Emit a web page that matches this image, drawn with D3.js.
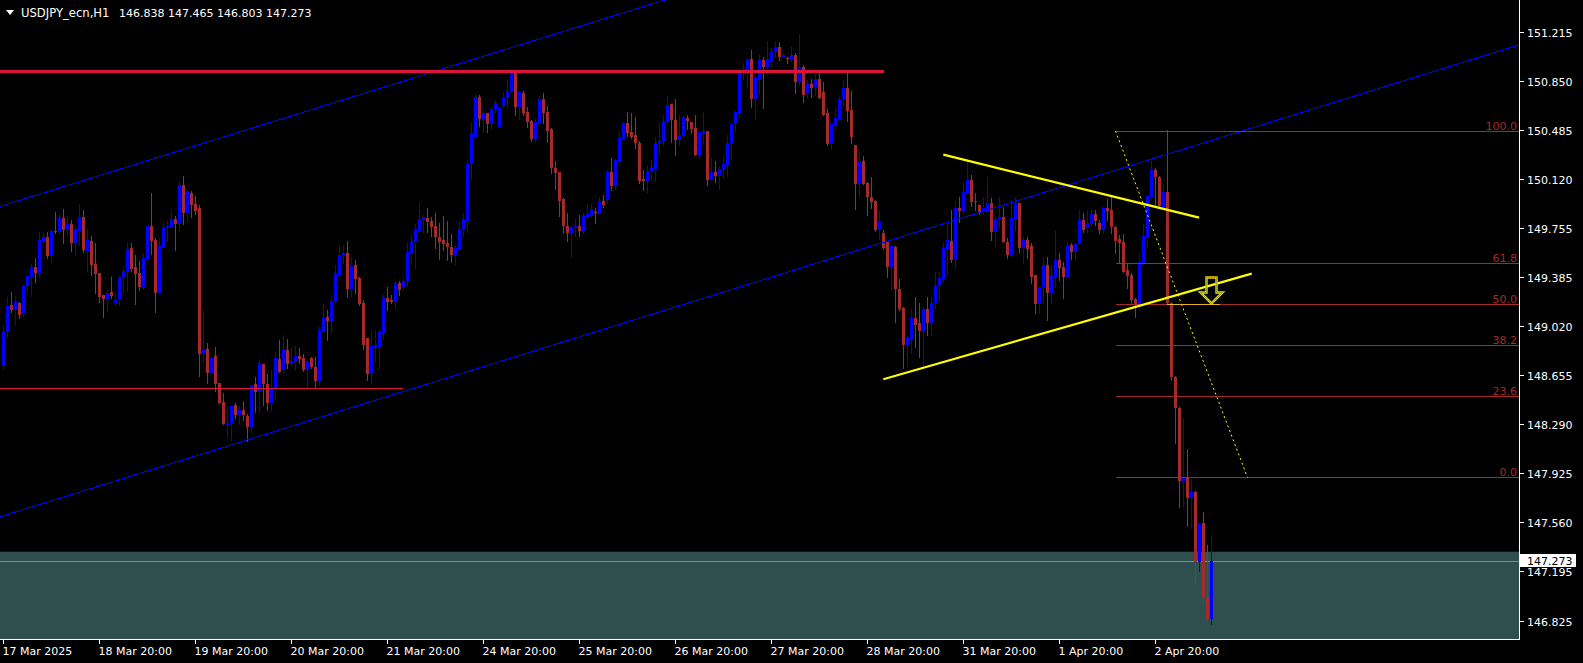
<!DOCTYPE html>
<html><head><meta charset="utf-8">
<script src="https://cdn.jsdelivr.net/npm/d3@7/dist/d3.min.js"></script>
<style>
html,body{margin:0;padding:0;background:#000;overflow:hidden;}
svg{display:block;}
text{font-family:"DejaVu Sans",sans-serif;}
</style></head><body>
<svg id="c" width="1583" height="663"></svg>
<script>
// ---------------- DATA (USDJPY_ecn, H1) ----------------
const symbolTitle = "USDJPY_ecn,H1";
const ohlcTitle = "146.838 147.465 146.803 147.273";
const opens = [
148.726,148.979,149.178,149.141,149.195,149.110,149.320,149.384,149.461,149.419,
149.655,149.685,149.546,149.729,149.724,149.826,149.737,149.782,149.640,149.729,
149.834,149.575,149.655,149.484,149.416,149.250,149.223,149.275,149.190,149.223,
149.387,149.426,149.603,149.461,149.416,149.310,149.521,149.767,149.662,149.267,
149.610,149.752,149.759,149.819,149.782,150.072,149.864,150.013,149.931,149.901,
148.820,148.850,148.674,148.798,148.597,148.455,148.284,148.296,148.433,148.358,
148.396,148.353,148.266,148.589,148.532,148.738,148.589,148.450,148.550,148.773,
148.694,148.843,148.738,148.756,148.798,148.786,148.694,148.786,148.719,148.614,
148.979,149.086,149.054,149.203,149.402,149.546,149.568,149.295,149.476,149.377,
149.195,148.930,148.664,148.855,148.863,148.967,149.228,149.215,149.203,149.340,
149.315,149.359,149.568,149.650,149.732,149.812,149.824,149.804,149.767,149.688,
149.663,149.643,149.613,149.551,149.588,149.737,149.804,150.229,150.433,150.731,
150.557,150.607,150.527,150.631,150.507,150.661,150.718,150.768,150.910,150.656,
150.761,150.619,150.549,150.413,150.537,150.713,150.619,150.490,150.202,150.167,
149.968,149.769,149.717,149.762,149.769,149.730,149.837,149.841,149.874,149.866,
149.956,149.960,150.171,150.064,150.246,150.415,150.537,150.469,150.445,150.387,
150.117,150.104,150.179,150.191,150.382,150.395,150.544,150.676,150.556,150.407,
150.437,150.569,150.539,150.499,150.296,150.452,150.474,150.109,150.166,150.141,
150.184,150.221,150.377,150.524,150.606,150.909,150.909,151.011,150.713,150.854,
151.004,150.954,150.991,151.065,151.103,151.028,151.021,151.003,151.041,150.837,
150.954,150.748,150.825,150.805,150.862,150.763,150.607,150.383,150.519,150.562,
150.713,150.798,150.631,150.371,150.080,150.254,150.090,149.986,149.956,149.737,
149.712,149.650,149.464,149.613,149.300,149.158,148.880,148.917,149.079,149.042,
148.987,149.146,149.042,149.191,149.318,149.372,149.588,149.655,149.514,149.904,
149.881,150.015,150.110,149.956,149.923,149.874,149.874,149.936,149.720,149.817,
149.837,149.650,149.551,149.814,149.936,149.601,149.663,149.618,149.402,149.186,
149.310,149.476,149.270,149.390,149.514,149.464,149.390,149.625,149.576,149.638,
149.812,149.750,149.782,149.857,149.792,149.737,149.899,149.886,149.762,149.668,
149.650,149.439,149.402,149.221,149.178,149.489,149.688,149.981,150.184,150.130,
149.911,150.023,149.196,148.644,148.413,147.869,147.889,147.744,147.784,147.265,
147.551,147.004,146.838];
const highs = [
149.022,149.240,149.275,149.245,149.200,149.327,149.398,149.481,149.526,149.722,
149.722,149.722,149.737,149.871,149.849,149.893,149.841,149.811,149.774,149.933,
149.886,149.744,149.695,149.640,149.420,149.255,149.290,149.387,149.270,149.394,
149.459,149.638,149.640,149.551,149.506,149.565,149.770,150.013,149.677,149.677,
149.782,149.804,149.878,149.841,150.102,150.139,150.042,150.028,149.990,149.923,
149.141,148.895,148.793,148.863,148.600,148.520,148.416,148.428,148.445,148.425,
148.463,148.363,148.585,148.644,148.773,148.740,148.661,148.694,148.830,148.917,
148.952,148.922,148.868,148.873,148.855,148.813,148.763,148.793,148.793,149.017,
149.186,149.141,149.253,149.476,149.625,149.625,149.655,149.538,149.513,149.389,
149.215,148.932,148.992,148.992,148.992,149.253,149.310,149.253,149.347,149.359,
149.380,149.638,149.700,149.779,149.943,149.849,149.899,149.837,149.861,149.787,
149.841,149.804,149.707,149.625,149.794,149.861,150.251,150.532,150.751,150.743,
150.631,150.609,150.644,150.706,150.652,150.763,150.855,150.934,150.912,150.780,
150.775,150.656,150.557,150.562,150.736,150.761,150.661,150.495,150.254,150.169,
149.978,149.861,149.764,149.817,149.849,149.861,149.931,149.931,149.899,149.981,
149.998,150.184,150.276,150.263,150.469,150.542,150.618,150.606,150.576,150.400,
150.184,150.221,150.263,150.432,150.544,150.594,150.738,150.678,150.713,150.594,
150.594,150.594,150.541,150.594,150.469,150.618,150.476,150.276,150.251,150.204,
150.288,150.445,150.531,150.626,150.934,150.974,151.013,151.078,150.889,151.048,
151.028,151.145,151.090,151.135,151.135,151.053,151.023,151.108,151.053,151.195,
150.966,150.855,150.862,150.905,150.905,150.838,150.636,150.532,150.644,150.731,
150.855,150.917,150.775,150.373,150.328,150.289,150.097,150.130,149.961,149.879,
149.737,149.652,149.620,149.615,149.370,149.160,148.947,149.141,149.240,149.191,
149.161,149.240,149.235,149.427,149.427,149.638,149.787,149.886,149.953,149.986,
150.097,150.254,150.147,150.010,149.925,149.981,150.130,149.973,149.837,149.986,
149.906,149.675,149.961,149.986,149.938,149.683,149.683,149.638,149.404,149.315,
149.539,149.539,149.476,149.737,149.563,149.501,149.650,149.638,149.643,149.886,
149.866,149.886,149.891,149.886,149.812,149.906,149.966,149.991,149.764,149.700,
149.707,149.484,149.414,149.228,149.558,149.782,149.998,150.254,150.197,150.140,
150.080,150.482,149.203,148.649,148.415,148.338,148.105,147.881,147.794,147.555,
147.635,147.389,147.465];
const lows = [
148.699,148.942,149.128,149.036,149.084,149.100,149.290,149.248,149.352,149.387,
149.638,149.531,149.501,149.712,149.712,149.643,149.700,149.583,149.551,149.623,
149.575,149.431,149.402,149.270,149.203,149.091,149.136,149.233,149.180,149.178,
149.270,149.285,149.434,149.185,149.290,149.297,149.518,149.561,149.128,149.265,
149.608,149.655,149.757,149.590,149.729,149.784,149.797,149.834,149.856,148.651,
148.756,148.599,148.669,148.540,148.445,148.288,148.197,148.172,148.334,148.296,
148.321,148.167,148.234,148.383,148.383,148.433,148.396,148.391,148.483,148.678,
148.669,148.706,148.731,148.694,148.743,148.689,148.570,148.706,148.570,148.582,
148.977,148.917,148.972,149.195,149.400,149.489,149.240,149.245,149.270,149.178,
148.848,148.619,148.590,148.763,148.699,148.922,149.141,149.190,149.153,149.253,
149.300,149.330,149.494,149.452,149.725,149.725,149.725,149.692,149.601,149.519,
149.588,149.514,149.501,149.476,149.586,149.692,149.725,150.117,150.431,150.512,
150.470,150.470,150.487,150.619,150.505,150.651,150.656,150.756,150.594,150.562,
150.594,150.507,150.403,150.400,150.520,150.532,150.395,150.164,150.040,149.841,
149.712,149.655,149.539,149.692,149.692,149.712,149.835,149.837,149.792,149.864,
149.911,149.940,150.035,150.040,150.221,150.413,150.437,150.425,150.345,150.084,
150.035,150.010,150.114,150.104,150.296,150.370,150.532,150.395,150.296,150.370,
150.432,150.487,150.462,150.294,150.276,150.378,150.072,150.107,150.097,150.042,
150.122,150.141,150.266,150.474,150.576,150.859,150.805,150.651,150.564,150.750,
150.648,150.904,150.954,151.028,151.003,151.023,150.979,150.998,150.755,150.817,
150.690,150.718,150.731,150.743,150.721,150.592,150.371,150.338,150.487,150.557,
150.669,150.549,150.383,149.894,149.993,150.078,149.849,149.899,149.732,149.670,
149.599,149.390,149.290,149.054,149.144,148.706,148.726,148.818,148.868,148.793,
148.719,148.955,148.955,149.153,149.216,149.352,149.402,149.501,149.452,149.799,
149.861,150.003,149.918,149.886,149.856,149.856,149.872,149.663,149.618,149.750,
149.648,149.526,149.534,149.737,149.576,149.494,149.526,149.345,149.116,149.116,
149.203,149.067,149.196,149.315,149.365,149.228,149.385,149.519,149.514,149.636,
149.725,149.725,149.767,149.775,149.712,149.712,149.812,149.712,149.563,149.501,
149.425,149.303,149.186,149.091,149.146,149.476,149.618,149.973,149.911,149.906,
149.899,149.186,148.619,148.152,147.675,147.680,147.531,147.513,147.109,147.198,
146.967,146.820,146.803];
const closes = [
148.984,149.171,149.141,149.200,149.103,149.320,149.394,149.461,149.419,149.662,
149.682,149.543,149.729,149.720,149.826,149.737,149.782,149.643,149.744,149.834,
149.588,149.662,149.476,149.409,149.240,149.225,149.265,149.245,149.215,149.387,
149.431,149.595,149.446,149.411,149.312,149.528,149.767,149.655,149.267,149.618,
149.759,149.767,149.819,149.782,150.072,149.864,150.020,149.923,149.878,148.815,
148.843,148.674,148.781,148.589,148.450,148.291,148.301,148.425,148.358,148.396,
148.358,148.266,148.582,148.527,148.748,148.589,148.450,148.550,148.786,148.681,
148.848,148.738,148.763,148.798,148.773,148.694,148.761,148.714,148.614,148.992,
149.079,149.061,149.210,149.414,149.551,149.568,149.295,149.469,149.369,149.186,
148.880,148.664,148.873,148.880,148.979,149.240,149.203,149.203,149.340,149.290,
149.359,149.576,149.655,149.737,149.819,149.837,149.799,149.762,149.683,149.650,
149.633,149.608,149.551,149.608,149.742,149.819,150.229,150.458,150.731,150.562,
150.607,150.527,150.636,150.681,150.649,150.718,150.775,150.910,150.656,150.763,
150.612,150.544,150.413,150.544,150.713,150.607,150.477,150.197,150.164,149.956,
149.767,149.717,149.762,149.769,149.730,149.844,149.854,149.894,149.861,149.956,
149.923,150.171,150.064,150.258,150.425,150.537,150.462,150.432,150.383,150.104,
150.104,150.176,150.204,150.387,150.400,150.551,150.668,150.556,150.407,150.445,
150.576,150.551,150.489,150.296,150.464,150.474,150.109,150.166,150.141,150.189,
150.229,150.382,150.526,150.618,150.909,150.934,151.011,150.713,150.872,151.004,
150.954,151.008,151.073,151.103,151.028,151.041,151.008,151.041,150.837,150.949,
150.745,150.825,150.793,150.862,150.723,150.594,150.378,150.530,150.569,150.713,
150.798,150.624,150.433,150.080,150.254,150.080,149.981,149.948,149.737,149.804,
149.601,149.464,149.618,149.300,149.146,148.880,148.930,149.079,149.029,148.987,
149.146,149.042,149.196,149.322,149.377,149.601,149.663,149.514,149.904,149.881,
150.023,150.110,149.948,149.946,149.866,149.899,149.936,149.720,149.817,149.837,
149.650,149.551,149.824,149.936,149.601,149.663,149.593,149.390,149.186,149.310,
149.476,149.270,149.402,149.514,149.452,149.390,149.618,149.576,149.633,149.817,
149.737,149.787,149.857,149.807,149.737,149.899,149.881,149.757,149.658,149.638,
149.427,149.394,149.216,149.178,149.501,149.693,149.991,150.184,150.130,149.916,
150.023,149.196,148.644,148.408,147.869,147.889,147.742,147.784,147.265,147.551,
147.004,146.838,147.273];

const dateLabels = ["17 Mar 2025","18 Mar 20:00","19 Mar 20:00","20 Mar 20:00","21 Mar 20:00",
  "24 Mar 20:00","25 Mar 20:00","26 Mar 20:00","27 Mar 20:00","28 Mar 20:00",
  "31 Mar 20:00","1 Apr 20:00","2 Apr 20:00"];
const dateLabelBars = [0,24,48,72,96,120,144,168,192,216,240,264,288];
const priceTicks = ["151.215","150.850","150.485","150.120","149.755","149.385","149.020",
  "148.655","148.290","147.925","147.560","147.195","146.825"];
const lastPrice = 147.273;

// drawing objects, anchored in (bar index, price)
const channelLower = [[50,148.071],[300,150.386]];
const channelUpper = [[0,149.921],[100,150.847]];
const triangleUpper = [[234.95,150.299],[298.9,149.829]];
const triangleLower = [[219.95,148.625],[312.05,149.412]];
const resistanceLevel = {price:150.920, toBar:220.2};
const supportLevel = {price:148.557, toBar:99.9};
const zoneTop = 147.340, zoneBottom = 146.0;
const fibAnchors = [[278,150.475],[311,147.893]];
const fibLevels = [100.0, 61.8, 50.0, 38.2, 23.6, 0.0];
const fibLabels = ["100.0","61.8","50.0","38.2","23.6","0.0"];
const signalArrow = {bar:302, price:149.19};
const signalMark = {fromBar:290.9, toBar:304.1, level:50.0};

// ---------------- CHART ----------------
const W = 1583, H = 663, plotW = 1519, plotH = 639;
const BULL = "#0000FF", BEAR = "#A52A2A", FIB = "#A52A2A";
const svg = d3.select("#c");
svg.append("rect").attr("width",W).attr("height",H).attr("fill","#000");

const x = d3.scaleLinear().domain([0, closes.length-1]).range([3.5, 3.5 + 4*(closes.length-1)]);
const y = d3.scaleLinear().domain([146.825, 151.215]).range([620.8, 31.7]);

svg.append("defs").append("clipPath").attr("id","plot")
  .append("rect").attr("x",0).attr("y",0).attr("width",plotW).attr("height",plotH);
const g = svg.append("g").attr("clip-path","url(#plot)");

// background zone rectangle
g.append("rect").attr("x",0).attr("width",plotW)
  .attr("y", y(zoneTop)).attr("height", y(zoneBottom)-y(zoneTop))
  .attr("fill","#2F4F4F");

// bid line
g.append("line").attr("x1",0).attr("x2",plotW)
  .attr("y1",Math.round(y(lastPrice))+0.5).attr("y2",Math.round(y(lastPrice))+0.5)
  .attr("stroke","#778899").attr("stroke-width",1);

// candles
const idx = d3.range(closes.length);
const cg = g.append("g").attr("shape-rendering","crispEdges");
idx.forEach(i=>{
  const o=opens[i], h=highs[i], l=lows[i], c=closes[i];
  const col = c >= o ? BULL : BEAR;
  const cx = Math.floor(x(i)) + 0.5;
  cg.append("line").attr("x1",cx).attr("x2",cx)
    .attr("y1",Math.round(y(h))).attr("y2",Math.round(y(l))+1)
    .attr("stroke",col).attr("stroke-width",1);
  const yt = Math.round(y(Math.max(o,c))), yb = Math.round(y(Math.min(o,c)));
  cg.append("rect").attr("x",Math.floor(x(i))-1).attr("width",3)
    .attr("y",yt).attr("height",Math.max(1,yb-yt)).attr("fill",col);
});

// helper: extended line through two (bar, price) anchors
function ray(pts, b0, b1){
  const [[xa,pa],[xb,pb]] = pts;
  const f = b => pa + (pb-pa)*(b-xa)/(xb-xa);
  return [[x(b0),y(f(b0))],[x(b1),y(f(b1))]];
}
function seg(pts){ return pts.map(([b,p])=>[x(b),y(p)]); }
const lineGen = d3.line();

// channel lines (blue)
[channelLower, channelUpper].forEach(ch=>{
  g.append("path").attr("d", lineGen(ray(ch,-5,400)))
    .attr("stroke","#0000FF").attr("stroke-width",1).attr("fill","none")
    .attr("shape-rendering","crispEdges");
});

// horizontal levels (crimson)
g.append("line").attr("x1",0).attr("x2",x(resistanceLevel.toBar))
  .attr("y1",Math.round(y(resistanceLevel.price))).attr("y2",Math.round(y(resistanceLevel.price)))
  .attr("stroke","#DC143C").attr("stroke-width",3).attr("shape-rendering","crispEdges");
g.append("line").attr("x1",0).attr("x2",x(supportLevel.toBar))
  .attr("y1",Math.round(y(supportLevel.price))+0.5).attr("y2",Math.round(y(supportLevel.price))+0.5)
  .attr("stroke","#DC143C").attr("stroke-width",1).attr("shape-rendering","crispEdges");

// fibonacci
const fibPrice = lv => fibAnchors[1][1] + (fibAnchors[0][1]-fibAnchors[1][1])*lv/100;
fibLevels.forEach((lv,k)=>{
  const yy = Math.round(y(fibPrice(lv)))+0.5;
  g.append("line").attr("x1",x(fibAnchors[0][0])).attr("x2",plotW)
    .attr("y1",yy).attr("y2",yy).attr("stroke",FIB).attr("stroke-width",1)
    .attr("shape-rendering","crispEdges");
  g.append("text").attr("x",plotW-2).attr("y",yy-2).attr("text-anchor","end")
    .attr("fill",FIB).attr("font-size","11px").text(fibLabels[k]);
});
g.append("path").attr("d", lineGen(seg(fibAnchors)))
  .attr("stroke","#FFFF00").attr("stroke-width",1).attr("stroke-dasharray","2,3")
  .attr("fill","none");

// triangle lines (yellow)
[triangleUpper, triangleLower].forEach(t=>{
  g.append("path").attr("d", lineGen(seg(t)))
    .attr("stroke","#FFFF00").attr("stroke-width",2.2).attr("fill","none");
});

// short mark at 50% level
const ym = Math.round(y(fibPrice(signalMark.level)))+0.5;
g.append("line").attr("x1",x(signalMark.fromBar)).attr("x2",x(signalMark.toBar))
  .attr("y1",ym).attr("y2",ym).attr("stroke","#E6B422").attr("stroke-width",1);

// down arrow
const ax = x(signalArrow.bar), ay = y(signalArrow.price);
const arrowD = `M${ax-5},${ay-26} L${ax+5},${ay-26} L${ax+5},${ay-11} L${ax+11},${ay-11} L${ax},${ay} L${ax-11},${ay-11} L${ax-5},${ay-11} Z`;
g.append("path").attr("d",arrowD)
  .attr("fill","none").attr("stroke","#F0D000").attr("stroke-width",2.4);
g.append("path").attr("d",arrowD)
  .attr("fill","none").attr("stroke","#6B8E23").attr("stroke-width",0.6);

// ---------------- AXES ----------------
const ax_g = svg.append("g").attr("shape-rendering","crispEdges");
ax_g.append("line").attr("x1",plotW+0.5).attr("x2",plotW+0.5).attr("y1",0).attr("y2",plotH+1)
  .attr("stroke","#fff");
ax_g.append("line").attr("x1",0).attr("x2",plotW+1).attr("y1",plotH+0.5).attr("y2",plotH+0.5)
  .attr("stroke","#fff");

priceTicks.forEach(t=>{
  const yy = Math.round(y(+t))+0.5;
  ax_g.append("line").attr("x1",plotW+1).attr("x2",plotW+5).attr("y1",yy).attr("y2",yy).attr("stroke","#fff");
  svg.append("text").attr("x",1527).attr("y",yy+4).attr("fill","#fff")
    .attr("font-size","11px").text(t);
});

dateLabelBars.forEach((b,k)=>{
  const xx = Math.floor(x(b))+0.5;
  ax_g.append("line").attr("x1",xx).attr("x2",xx).attr("y1",plotH+1).attr("y2",plotH+5).attr("stroke","#fff");
  svg.append("text").attr("x",xx-1).attr("y",655).attr("fill","#fff")
    .attr("font-size","11px").text(dateLabels[k]);
});

// last price label
const ly = y(lastPrice);
svg.append("rect").attr("x",plotW+1).attr("y",Math.round(ly)-7).attr("width",56).attr("height",13)
  .attr("fill","#fff").attr("shape-rendering","crispEdges");
svg.append("text").attr("x",1527).attr("y",Math.round(ly)+4).attr("fill","#000")
  .attr("font-size","11px").text(lastPrice.toFixed(3));

// title
svg.append("path").attr("d","M6,10 L14,10 L10,15 Z").attr("fill","#fff");
svg.append("text").attr("x",21).attr("y",17).attr("fill","#fff").attr("font-size","11.6px").text(symbolTitle);
svg.append("text").attr("x",119).attr("y",17).attr("fill","#fff").attr("font-size","11px").text(ohlcTitle);
</script>
</body></html>
